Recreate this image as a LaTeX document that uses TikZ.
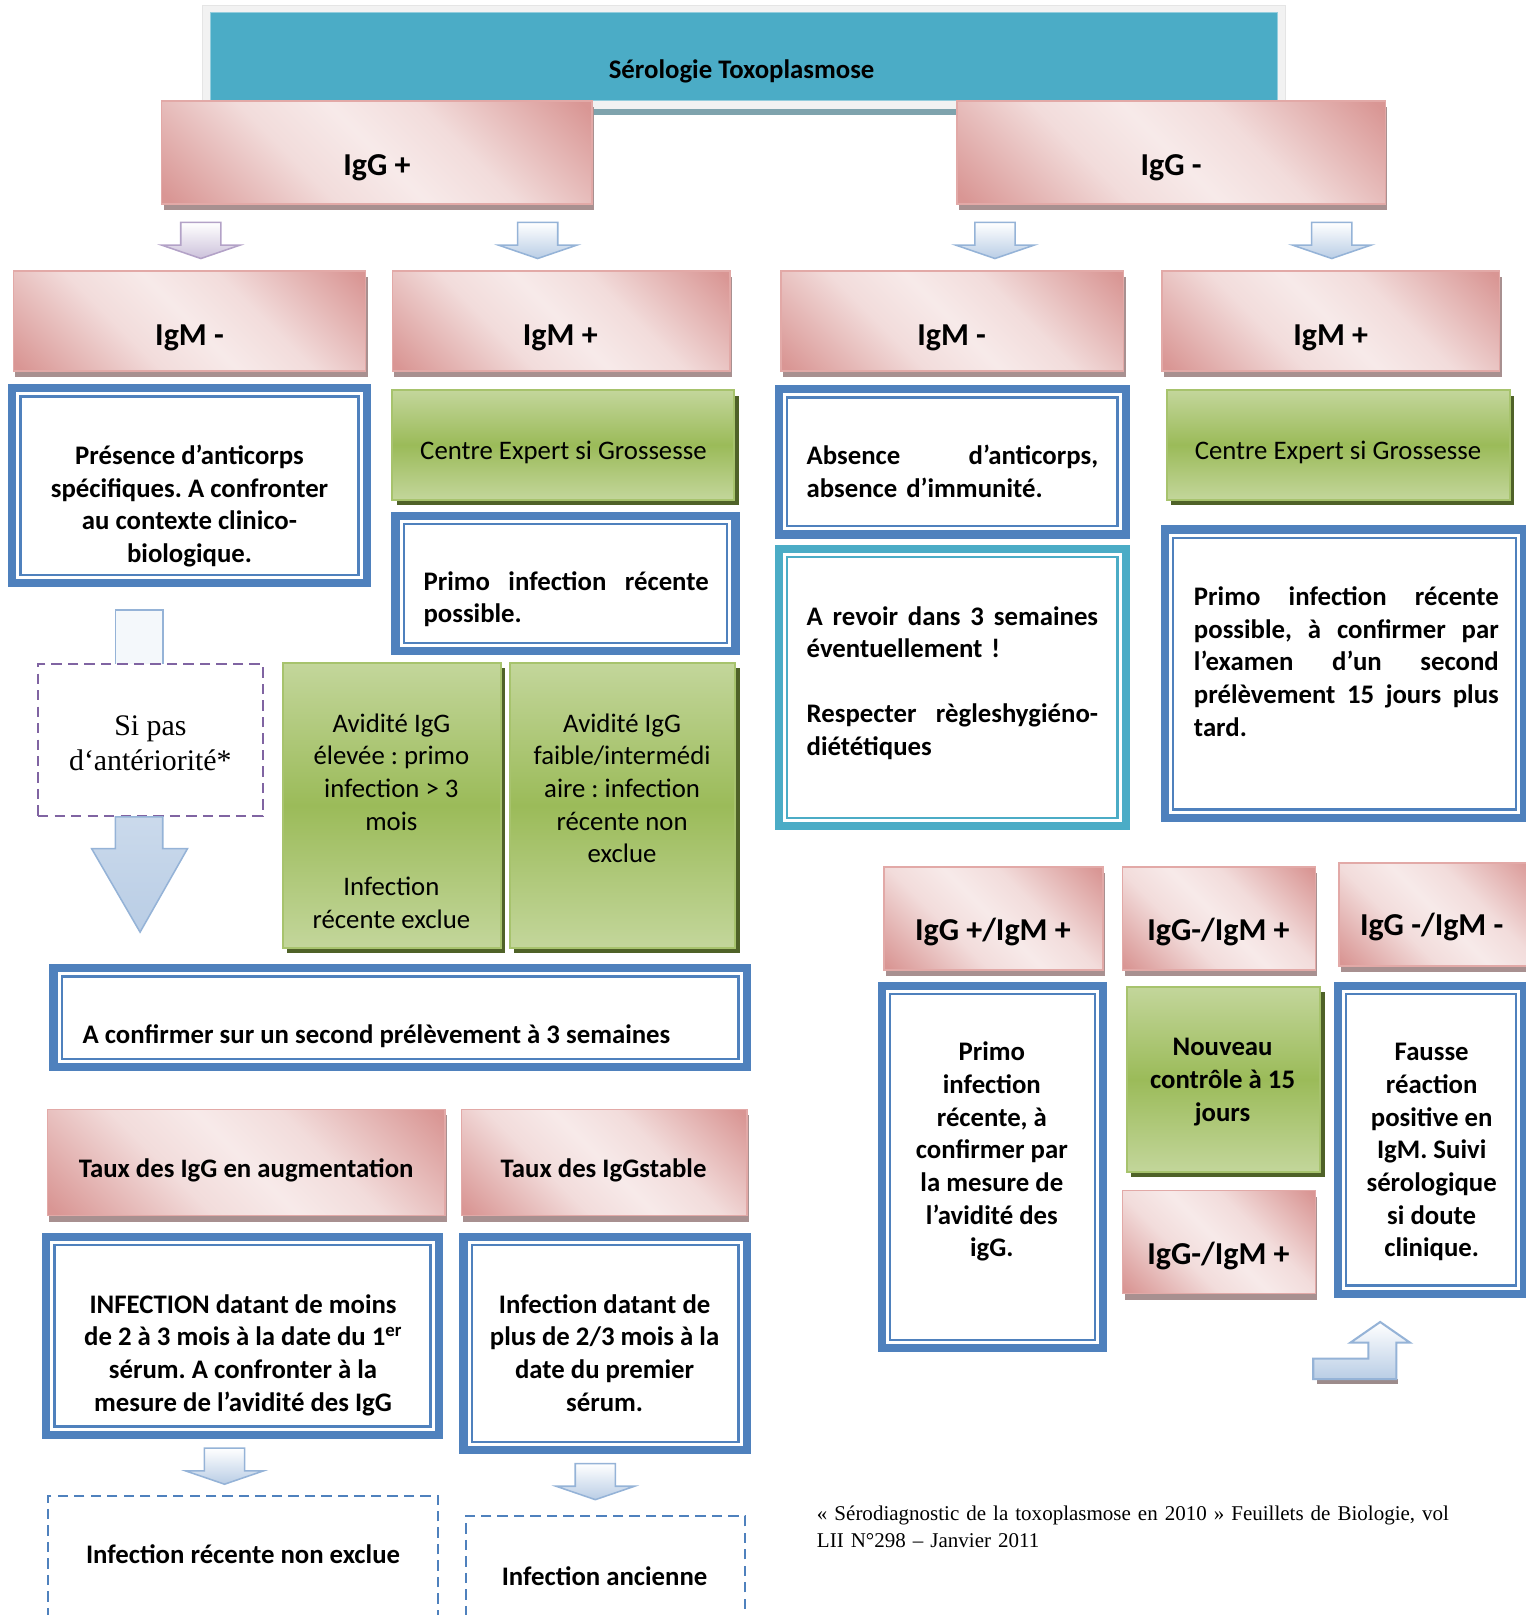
\documentclass[tikz,border=0pt]{standalone}
\usepackage{fontspec}
\setmainfont{Carlito}
\newfontfamily\tnr{Liberation Serif}
\usetikzlibrary{shadows}
\definecolor{teal1}{HTML}{4BACC6}
\definecolor{pinkD}{HTML}{D99694}
\definecolor{pinkL}{HTML}{F2DCDB}
\definecolor{pinkB}{HTML}{E2A9A7}
\definecolor{pinkS}{HTML}{A89090}
\definecolor{greenL}{HTML}{C3D69B}
\definecolor{greenM}{HTML}{9BBB59}
\definecolor{greenS}{HTML}{4F6228}
\definecolor{blueO}{HTML}{4F81BD}
\definecolor{arrowB}{HTML}{95B3D7}
\definecolor{arrowF}{HTML}{B9CDE5}
\definecolor{lavO}{HTML}{B3A2C7}
\definecolor{lavF}{HTML}{CCC1DA}
\definecolor{purp}{HTML}{8064A2}
\definecolor{frameG}{HTML}{F2F2F2}
\definecolor{tealS}{HTML}{7FA3AD}
\pgfdeclarehorizontalshading{pinkdiag}{100bp}{color(0bp)=(pinkD); color(16bp)=(pinkD); color(38bp)=(pinkL); color(50bp)=(pinkL!60!white); color(62bp)=(pinkL); color(84bp)=(pinkD); color(100bp)=(pinkD)}
\pgfdeclareverticalshading{greenv}{100bp}{color(0bp)=(greenL); color(25bp)=(greenL); color(50bp)=(greenM); color(75bp)=(greenL); color(100bp)=(greenL)}
\newcommand\fntB{\fontsize{26}{31.7}\selectfont\bfseries\frenchspacing}
\newcommand\fntR{\fontsize{26}{31.7}\selectfont\frenchspacing}
\newcommand\fntH{\fontsize{31}{36}\selectfont\bfseries}
\newcommand\fntT{\fontsize{26}{30}\selectfont\bfseries}
\newcommand\fntS{\tnr\fontsize{29}{34}\selectfont}
\newcommand\fntC{\tnr\fontsize{20.4}{26}\selectfont\frenchspacing}
\newcommand\BX[6]{\node[#2, inner sep=0pt, minimum width={(#5)-(#3)}, minimum height={(#6)-(#4)}] (#1) at ({((#3)+(#5))/2},{((#4)+(#6))/2}) {};}
\newcommand\BB[6]{\BX{#1}{#2}{#3+4}{#4+4}{#5-4}{#6-4}}
\newcommand\smallarrow[3]{\draw[#3] ({#1-19.5},#2) -- ({#1+19.5},#2) -- ({#1+19.5},{#2+22}) -- ({#1+38},{#2+22}) -- (#1,{#2+35}) -- ({#1-38},{#2+22}) -- ({#1-19.5},{#2+22}) -- cycle;}
\tikzset{
  pinkbox/.style={shading=pinkdiag, shading angle=45, draw=pinkB, line width=1.5pt,
    general shadow={fill=pinkS, shadow xshift=2pt, shadow yshift=-6pt}},
  greenbox/.style={shading=greenv, draw=greenM!70!greenL, line width=2pt,
    general shadow={fill=greenS, shadow xshift=4pt, shadow yshift=-5pt}},
  bluebox/.style={draw=#1, line width=8pt, fill=white,
    path picture={\draw[#1, line width=2.2pt] ([shift={(8,8)}]path picture bounding box.north west) rectangle ([shift={(-8,-8)}]path picture bounding box.south east);}},
  bluebox/.default=blueO,
  dashbox/.style={draw=#1, line width=2pt, dash pattern=on 10pt off 6pt, fill=white},
  arrowstyle/.style={draw=arrowB, line width=1.5pt, top color=white, bottom color=arrowF},
  lavarrow/.style={draw=lavO, line width=1.5pt, top color=white, bottom color=lavF},
  txt/.style={inner sep=0pt, anchor=base},
  txl/.style={inner sep=0pt, anchor=base west, align=left, text width=#1},
  txc/.style={inner sep=0pt, anchor=base, align=flush center, text width=#1},
}
\begin{document}
\frenchspacing
\begin{tikzpicture}[x=1pt,y=-1pt]
\useasboundingbox (0,0) rectangle (1481,1568);
% title
\BX{frame}{fill=frameG, draw=black!10, line width=1pt}{197}{5}{1248}{106}
\fill[tealS] (206,106) rectangle (1244,112);
\BX{title}{fill=teal1, draw=teal1!60!white, line width=1pt}{204}{12}{1240}{98}
\node[txt, font=\fntT] (title-t) at (720,76) {Sérologie Toxoplasmose};
% IgG
\BX{iggp}{pinkbox}{157}{98}{575}{198}
\node[txt, font=\fntH] (iggp-t) at (366,170) {IgG +};
\BX{iggn}{pinkbox}{929}{98}{1345}{198}
\node[txt, font=\fntH] (iggn-t) at (1137,170) {IgG -};
\smallarrow{195}{216}{lavarrow}
\smallarrow{522}{216}{arrowstyle}
\smallarrow{966}{216}{arrowstyle}
\smallarrow{1293}{216}{arrowstyle}
% IgM row
\BX{igmA}{pinkbox}{13}{263}{355}{360}
\node[txt, font=\fntH] (igmA-t) at (184,335) {IgM -};
\BX{igmB}{pinkbox}{381}{263}{709}{360}
\node[txt, font=\fntH] (igmB-t) at (544,335) {IgM +};
\BX{igmC}{pinkbox}{758}{263}{1091}{360}
\node[txt, font=\fntH] (igmC-t) at (924,335) {IgM -};
\BX{igmD}{pinkbox}{1128}{263}{1456}{360}
\node[txt, font=\fntH] (igmD-t) at (1292,335) {IgM +};
% row 3
\BB{presence}{bluebox}{8}{373}{360}{570}
\node[txc=320, font=\fntB] (presence-t) at (184,451) {Présence d’anticorps\\spécifiques. A confronter\\au contexte clinico-\\biologique.};
\BX{centre1}{greenbox}{381}{379}{713}{485}
\node[txt, font=\fntR] (centre1-t) at (547,446) {Centre Expert si Grossesse};
\BB{primo1}{bluebox}{380}{497}{718}{636}
\node[txl=277, font=\fntB] (primo1-t) at (411,573) {Primo\hfill infection\hfill récente\\possible.};
\BB{absence}{bluebox}{752}{374}{1097}{523}
\node[txl=283, font=\fntB] (absence-t) at (783,451) {Absence\hfill d’anticorps,\\absence d’immunité.};
\BB{arevoir}{bluebox=teal1}{752}{529}{1097}{806}
\node[txl=283, font=\fntB] (arevoir-t) at (783,607) {A\hfill revoir\hfill dans\hfill 3\hfill semaines\\éventuellement !\\[31.5pt]Respecter\hfill règleshygiéno-\\diététiques};
\BX{centre2}{greenbox}{1133}{379}{1466}{485}
\node[txt, font=\fntR] (centre2-t) at (1299,446) {Centre Expert si Grossesse};
\BB{primo2}{bluebox}{1127}{510}{1484}{798}
\node[txl=296, font=\fntB] (primo2-t) at (1159,588) {Primo\hfill infection\hfill récente\\possible,\hfill à\hfill confirmer\hfill par\\l’examen\hfill d’un\hfill second\\prélèvement\hfill 15\hfill jours\hfill plus\\tard.};
% left column
\draw[draw=arrowB, line width=1.5pt, fill=arrowF!15!white] (112,592) rectangle (158,645);
\BX{sipas}{dashbox=purp}{37}{645}{255}{792}
\node[txc=210, font=\fntS] (sipas-t) at (146,714) {Si pas\\d‘antériorité*};
\draw[draw=arrowB, line width=1.5pt, top color=arrowF!75!white, bottom color=arrowF] (112,793) -- (158,793) -- (158,824) -- (182,824) -- (136,905) -- (89,824) -- (112,824) -- cycle;
\BX{avid1}{greenbox}{275}{644}{486}{920}
\node[txc=200, font=\fntR] (avid1-t) at (380,711) {Avidité IgG\\élevée : primo\\infection > 3\\mois\\[31.7pt]Infection\\récente exclue};
\BX{avid2}{greenbox}{495}{644}{714}{920}
\node[txc=210, font=\fntR] (avid2-t) at (604,711) {Avidité IgG\\faible/intermédi\\aire : infection\\récente non\\exclue};
\BB{confirm}{bluebox}{48}{936}{729}{1040}
\node[txt, anchor=base west, font=\fntB] (confirm-t) at (80,1013) {A confirmer sur un second prélèvement à 3 semaines};
\BX{taux1}{pinkbox}{46}{1077}{432}{1180}
\node[txt, font=\fntB] (taux1-t) at (239,1143) {Taux des IgG en augmentation};
\BX{taux2}{pinkbox}{448}{1077}{725}{1180}
\node[txt, font=\fntB] (taux2-t) at (586,1143) {Taux des IgGstable};
\BB{inf1}{bluebox}{41}{1197}{430}{1397}
\node[txc=360, font=\fntB] (inf1-t) at (236,1275) {INFECTION datant de moins\\de 2 à 3 mois à la date du 1\textsuperscript{er}\\sérum. A confronter à la\\mesure de l’avidité des IgG};
\BB{inf2}{bluebox}{446}{1197}{729}{1412}
\node[txc=260, font=\fntB] (inf2-t) at (587,1275) {Infection datant de\\plus de 2/3 mois à la\\date du premier\\sérum.};
\smallarrow{218}{1406}{arrowstyle}
\smallarrow{578}{1421}{arrowstyle}
\BX{recente}{dashbox=blueO}{47}{1452}{425}{1595}
\node[txt, font=\fntB] (recente-t) at (236,1518) {Infection récente non exclue};
\BX{ancienne}{dashbox=blueO}{452}{1472}{723}{1595}
\node[txt, font=\fntB] (ancienne-t) at (587,1539) {Infection ancienne};
% right bottom
\BX{pp}{pinkbox}{858}{842}{1071}{942}
\node[txt, font=\fntH] (pp-t) at (964,913) {IgG +/IgM +};
\BX{np}{pinkbox}{1090}{842}{1277}{942}
\node[txt, font=\fntH] (np-t) at (1183,913) {IgG-/IgM +};
\BX{nn}{pinkbox}{1300}{838}{1495}{938}
\node[txt, font=\fntH] (nn-t) at (1390,908) {IgG -/IgM -};
\BB{primo3}{bluebox}{852}{953}{1075}{1313}
\node[txc=200, font=\fntB] (primo3-t) at (963,1030) {Primo\\infection\\récente, à\\confirmer par\\la mesure de\\l’avidité des\\igG.};
\BX{nouveau}{greenbox}{1094}{958}{1282}{1138}
\node[txc=180, font=\fntB] (nouveau-t) at (1187,1025) {Nouveau\\contrôle à 15\\jours};
\BX{np2}{pinkbox}{1090}{1156}{1277}{1256}
\node[txt, font=\fntH] (np2-t) at (1183,1228) {IgG-/IgM +};
\BB{fausse}{bluebox}{1295}{953}{1484}{1260}
\node[txc=170, font=\fntB] (fausse-t) at (1390,1030) {Fausse\\réaction\\positive en\\IgM. Suivi\\sérologique\\si doute\\clinique.};
\fill[pinkS!70!gray] (1279,1339) rectangle (1357,1344);
\draw[arrowstyle, line width=2pt] (1275,1319) -- (1328.6,1319) -- (1328.6,1303.6) -- (1311,1303.6) -- (1340,1283.5) -- (1369,1303.6) -- (1355.7,1303.6) -- (1355.7,1339) -- (1275,1339) -- cycle;
% citation
\node[txl=660, font=\fntC] (cite) at (793,1476) {« Sérodiagnostic de la toxoplasmose en 2010 » Feuillets de Biologie, vol\\LII N°298 – Janvier 2011};
\end{tikzpicture}
\end{document}
